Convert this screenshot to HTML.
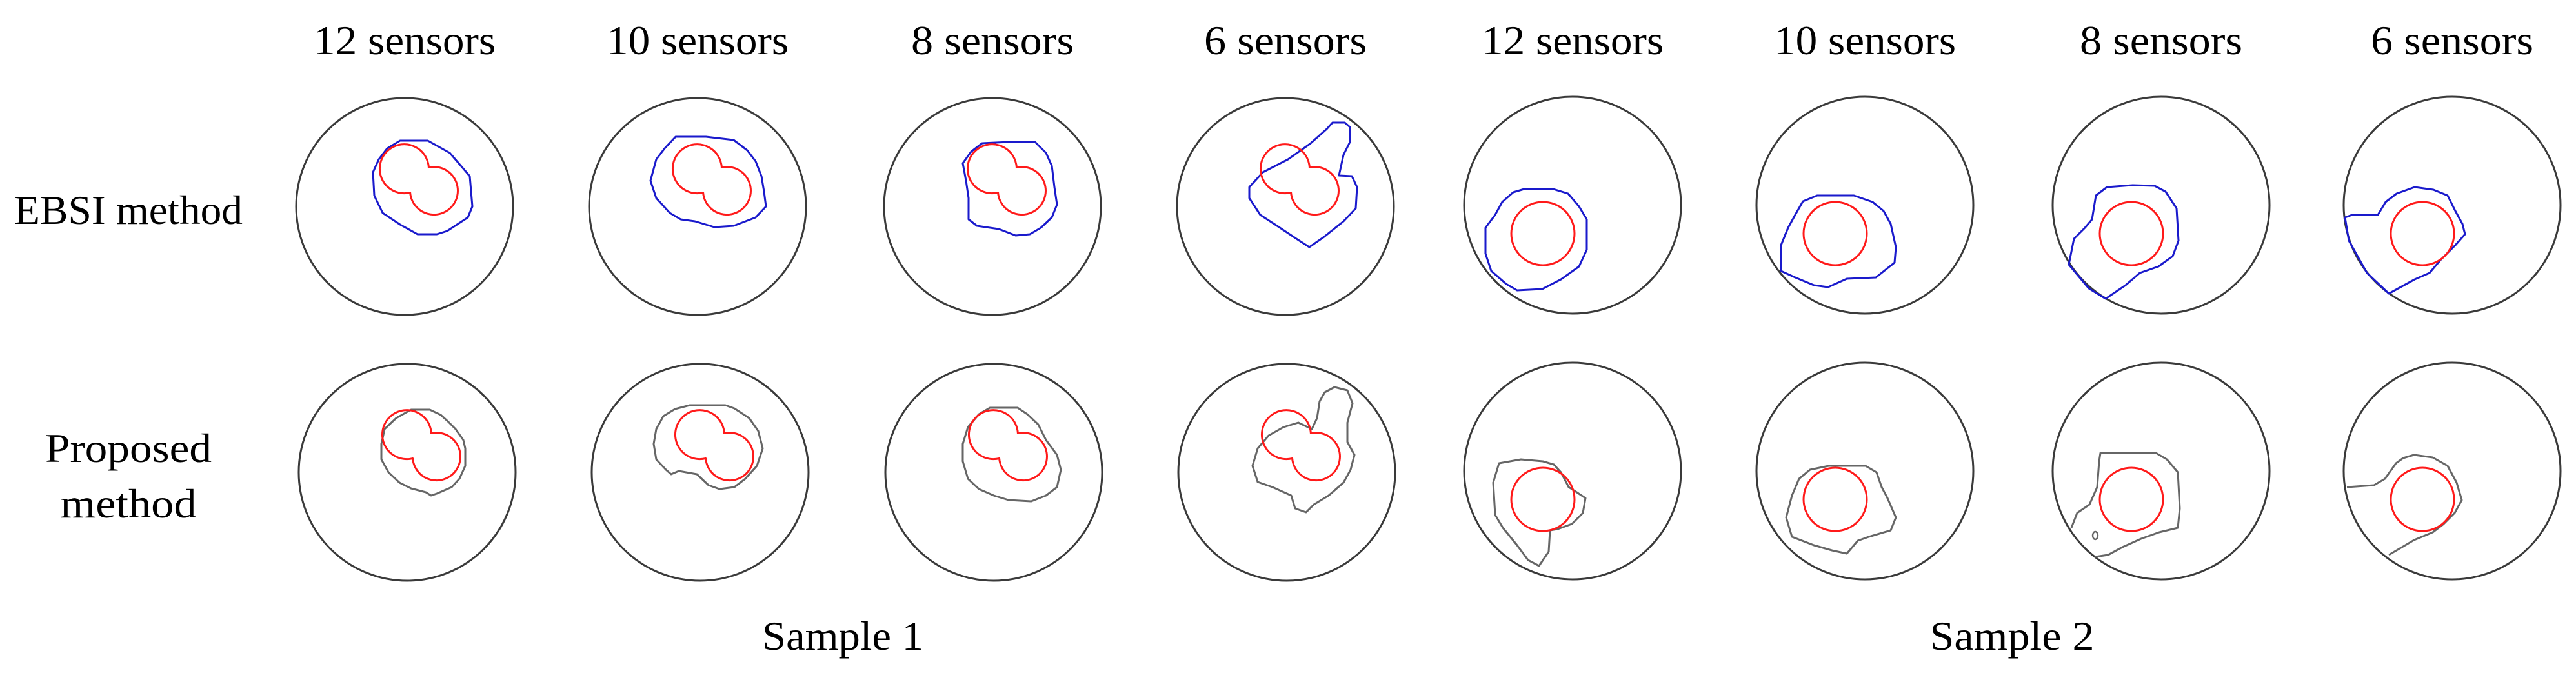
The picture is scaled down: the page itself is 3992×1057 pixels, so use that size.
<!DOCTYPE html>
<html><head><meta charset="utf-8"><style>
html,body{margin:0;padding:0;background:#fff;}
svg{display:block;}
text{font-family:"Liberation Serif",serif;font-size:63px;fill:#000;}
</style></head><body>
<svg width="3992" height="1057" viewBox="0 0 3992 1057" xmlns="http://www.w3.org/2000/svg">
<defs>
<path id="red1" d="M37.4,-60.5 A38 38 0 1 0 8.6,-21.5 A37 37 0 1 0 37.4,-60.5 Z" fill="none" stroke="#ff1a1a" stroke-width="3"/>
<circle id="red2" cx="-46" cy="44" r="49" fill="none" stroke="#ff1a1a" stroke-width="3"/>
<circle id="outer" cx="0" cy="0" r="168" fill="none" stroke="#3a3a3a" stroke-width="3"/>
</defs>

<!-- Headers -->
<g text-anchor="middle">
<text x="627" y="84" textLength="282" lengthAdjust="spacingAndGlyphs">12 sensors</text>
<text x="1081" y="84" textLength="282" lengthAdjust="spacingAndGlyphs">10 sensors</text>
<text x="1538" y="84" textLength="252" lengthAdjust="spacingAndGlyphs">8 sensors</text>
<text x="1992" y="84" textLength="252" lengthAdjust="spacingAndGlyphs">6 sensors</text>
<text x="2437" y="84" textLength="282" lengthAdjust="spacingAndGlyphs">12 sensors</text>
<text x="2890" y="84" textLength="282" lengthAdjust="spacingAndGlyphs">10 sensors</text>
<text x="3349" y="84" textLength="252" lengthAdjust="spacingAndGlyphs">8 sensors</text>
<text x="3800" y="84" textLength="252" lengthAdjust="spacingAndGlyphs">6 sensors</text>
<text x="199" y="347" textLength="354" lengthAdjust="spacingAndGlyphs">EBSI method</text>
<text x="199" y="716" textLength="258" lengthAdjust="spacingAndGlyphs">Proposed</text>
<text x="199" y="802" textLength="211" lengthAdjust="spacingAndGlyphs">method</text>
<text x="1306" y="1007" textLength="250" lengthAdjust="spacingAndGlyphs">Sample 1</text>
<text x="3118" y="1007" textLength="255" lengthAdjust="spacingAndGlyphs">Sample 2</text>
</g>

<g fill="none" stroke-linejoin="round">
<!-- Row 1 Sample 1 -->
<g transform="translate(627,320)">
<use href="#outer"/>
<polygon stroke="#1a1acc" stroke-width="3" points="-7,-102 36,-102 70,-83 101,-47 105,0 98,17 66,38 50,43 20,43 -7,28 -34,10 -47,-17 -49,-53 -40,-73 -27,-90"/>
<use href="#red1"/>
</g>
<g transform="translate(1081,320)">
<use href="#outer"/>
<polygon stroke="#1a1acc" stroke-width="3" points="-34,-108 13,-108 56,-103 77,-87 90,-70 99,-47 103,-23 106,0 90,17 56,30 26,32 -4,23 -26,20 -43,10 -64,-13 -73,-40 -64,-73 -51,-90"/>
<use href="#red1"/>
</g>
<g transform="translate(1538,320)">
<use href="#outer"/>
<polygon stroke="#1a1acc" stroke-width="3" points="-16,-98 27,-100 66,-100 83,-83 92,-63 96,-30 100,-3 92,17 75,33 58,43 36,45 10,35 -24,30 -37,20 -37,-13 -41,-40 -46,-67 -33,-85"/>
<use href="#red1"/>
</g>
<g transform="translate(1992,320)">
<use href="#outer"/>
<polygon stroke="#1a1acc" stroke-width="3" points="73,-130 92,-130 100,-123 100,-100 90,-80 83,-48 103,-47 111,-30 109,3 90,23 60,47 37,63 17,50 -13,30 -39,13 -56,-13 -56,-30 -35,-53 4,-73 38,-97 64,-120"/>
<use href="#red1"/>
</g>
<!-- Row 1 Sample 2 -->
<g transform="translate(2437,318)">
<use href="#outer"/>
<polygon stroke="#1a1acc" stroke-width="3" points="-75,-25 -30,-25 -7,-18 10,2 22,22 22,69 10,95 -18,115 -47,130 -86,132 -103,122 -126,102 -135,75 -135,35 -120,15 -109,-5 -92,-20"/>
<use href="#red2"/>
</g>
<g transform="translate(2890,318)">
<use href="#outer"/>
<polygon stroke="#1a1acc" stroke-width="3" points="-74,-15 -17,-15 12,-5 29,9 40,29 48,65 46,89 17,112 -28,114 -57,127 -79,124 -108,112 -130,102 -130,62 -119,35 -108,15 -96,-6"/>
<use href="#red2"/>
</g>
<g transform="translate(3349,318)">
<use href="#outer"/>
<polygon stroke="#1a1acc" stroke-width="3" points="-84,-28 -44,-31 -10,-30 7,-21 24,5 27,55 18,79 -4,95 -33,105 -55,124 -86,145 -112,129 -143,92 -135,52 -118,35 -107,22 -101,-15"/>
<use href="#red2"/>
</g>
<g transform="translate(3800,318)">
<use href="#outer"/>
<polygon stroke="#1a1acc" stroke-width="3" points="-58,-28 -29,-24 -7,-15 5,9 16,29 20,45 5,62 -18,85 -35,105 -58,115 -98,137 -132,105 -160,55 -166,19 -155,15 -115,15 -103,-5 -86,-18"/>
<use href="#red2"/>
</g>

<!-- Row 2 Sample 1 -->
<g transform="translate(631,732)">
<use href="#outer"/>
<polygon stroke="#666" stroke-width="3" points="6,-97 35,-97 52,-89 63,-79 75,-67 87,-50 90,-37 90,-10 81,10 69,23 46,33 37,36 29,31 6,25 -12,16 -29,0 -40,-20 -40,-44 -35,-67 -17,-84"/>
<use href="#red1"/>
</g>
<g transform="translate(1085,732)">
<use href="#outer"/>
<polygon stroke="#666" stroke-width="3" points="-16,-104 39,-104 53,-99 76,-84 90,-64 97,-37 88,-10 70,10 53,23 30,26 13,20 -5,3 -33,-2 -45,3 -53,-4 -68,-20 -72,-44 -68,-67 -57,-87 -39,-98"/>
<use href="#red1"/>
</g>
<g transform="translate(1540,732)">
<use href="#outer"/>
<polygon stroke="#666" stroke-width="3" points="-6,-100 37,-100 52,-90 69,-74 81,-50 98,-27 104,-4 98,23 81,36 58,45 23,43 0,36 -23,26 -40,10 -48,-17 -48,-44 -40,-70 -23,-90"/>
<use href="#red1"/>
</g>
<g transform="translate(1994,732)">
<use href="#outer"/>
<polygon stroke="#666" stroke-width="3" points="74,-132 94,-127 102,-107 94,-77 94,-47 105,-27 99,-4 88,16 65,36 42,50 30,62 13,56 7,36 -22,23 -45,15 -53,-10 -45,-37 -28,-57 -5,-70 18,-77 39,-67 47,-84 51,-110 59,-124"/>
<use href="#red1"/>
</g>
<!-- Row 2 Sample 2 -->
<g transform="translate(2437,730)">
<use href="#outer"/>
<polygon stroke="#666" stroke-width="3" points="-80,-18 -46,-15 -29,-10 -18,2 -6,25 5,32 20,42 16,65 -1,82 -23,90 -35,92 -37,125 -52,147 -69,138 -86,115 -108,88 -120,68 -123,18 -114,-12"/>
<use href="#red2"/>
</g>
<g transform="translate(2890,730)">
<use href="#outer"/>
<polygon stroke="#666" stroke-width="3" points="-56,-8 1,-8 18,2 26,25 35,42 48,72 40,92 6,102 -11,108 -28,128 -51,123 -79,115 -113,102 -122,72 -113,38 -102,12 -85,-2"/>
<use href="#red2"/>
</g>
<g transform="translate(3349,730)">
<use href="#outer"/>
<polyline stroke="#666" stroke-width="3" points="-139,88 -130,65 -111,52 -99,25 -96,-15 -94,-28 -43,-28 -8,-28 9,-18 26,2 29,58 26,88 -3,95 -31,105 -60,118 -82,130 -102,133"/>
<ellipse cx="-102" cy="100" rx="4" ry="6" stroke="#666" stroke-width="2.5"/>
<use href="#red2"/>
</g>
<g transform="translate(3800,730)">
<use href="#outer"/>
<polyline stroke="#666" stroke-width="3" points="-163,25 -121,22 -104,12 -87,-12 -76,-20 -59,-25 -30,-21 -7,-8 7,18 15,45 4,65 -13,82 -30,95 -59,107 -98,130"/>
<use href="#red2"/>
</g>
</g>
</svg>
</body></html>
